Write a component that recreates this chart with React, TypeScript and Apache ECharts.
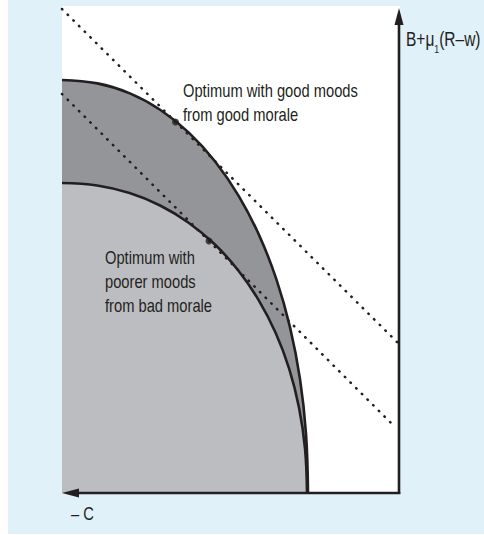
import React, { useEffect, useRef } from "react";
import * as echarts from "echarts";

// Data space: x = distance to the left of the vertical axis (the "− C" direction),
// y = height above the horizontal axis ("B+μ1(R−w)").
const X_MAX = 337;
const Y_MAX = 485;

// Frontier with good morale (outer, darker band)
const goodFrontierX = [337, 301.6, 269.1, 238.5, 209.9, 183.7, 160.2, 139.7, 122.5, 108.9, 99, 93, 91];
const goodFrontierY = [413, 409.6, 399.6, 383.0, 360.1, 331.3, 296.9, 257.4, 213.4, 165.4, 114, 59.4, 0];

// Frontier with bad morale (inner, lighter area)
const badFrontierX = [337, 301.8, 269.4, 238.9, 210.4, 184.3, 160.9, 140.5, 123.4, 109.8, 100, 94, 92];
const badFrontierY = [310, 307.5, 299.9, 287.5, 270.3, 248.7, 222.8, 193.2, 160.2, 124.2, 85.6, 44.6, 0];

// Dotted iso-lines (tangents)
const goodTangentX = [337, 0];
const goodTangentY = [484, 149];
const badTangentX = [337, 8];
const badTangentY = [399, 70];

// Optima
const optimaX = [223.5, 190];
const optimaY = [371, 252];

const goodLabelLines = ["Optimum with good moods", "from good morale"];
const badLabelLines = ["Optimum with", "poorer moods", "from bad morale"];
const yAxisLabel = "{m|B+μ}{s|1}{m|(R–w)}";
const xAxisLabel = "– C";

const INK = "#231f20";
const DARK = "#939598";
const LIGHT = "#bcbdc0";
const BG = "#e0f1fa";
const FONT = "'Liberation Sans', Arial, sans-serif";
const FS = 18.5;
const NARROW = 0.795;

const zip = (xs: number[], ys: number[]) => xs.map((x, i) => [x, ys[i]]);

const narrowText = (x: number, y: number, text: string, extra: any = {}) => ({
  type: "text",
  z: 60,
  x,
  y,
  scaleX: NARROW,
  silent: true,
  style: { x: 0, y: 0, text, font: `${FS}px ${FONT}`, fill: INK, verticalAlign: "middle", ...extra },
});

export default function App() {
  const ref = useRef<HTMLDivElement>(null);

  useEffect(() => {
    if (!ref.current) return;
    const chart = echarts.init(ref.current, null, { renderer: "svg" });

    const dotted = {
      color: INK,
      width: 2.5,
      type: [0.5, 7.5] as any,
      cap: "round" as const,
    };

    chart.setOption({
      animation: false,
      grid: { left: 62, right: 85, top: 8, bottom: 42 },
      xAxis: { type: "value", min: 0, max: X_MAX, inverse: true, show: false },
      yAxis: { type: "value", min: 0, max: Y_MAX, show: false },
      series: [
        {
          type: "line",
          data: zip(goodFrontierX, goodFrontierY),
          smooth: 0.4,
          symbol: "none",
          lineStyle: { color: INK, width: 2.6 },
          areaStyle: { color: DARK, opacity: 1 },
          z: 3,
        },
        {
          type: "line",
          data: zip(badFrontierX, badFrontierY),
          smooth: 0.4,
          symbol: "none",
          lineStyle: { color: INK, width: 2.6 },
          areaStyle: { color: LIGHT, opacity: 1 },
          z: 4,
        },
        {
          type: "line",
          data: zip(goodTangentX, goodTangentY),
          symbol: "none",
          lineStyle: dotted,
          z: 5,
        },
        {
          type: "line",
          data: zip(badTangentX, badTangentY),
          symbol: "none",
          lineStyle: dotted,
          z: 5,
        },
        {
          type: "scatter",
          data: zip(optimaX, optimaY),
          symbolSize: 7,
          itemStyle: { color: INK },
          z: 6,
        },
      ],
    });

    const o = chart.convertToPixel({ gridIndex: 0 }, [0, 0]) as number[];
    const top = chart.convertToPixel({ gridIndex: 0 }, [0, Y_MAX]) as number[];
    const left = chart.convertToPixel({ gridIndex: 0 }, [X_MAX, 0]) as number[];
    const ah = 17;
    const aw = 4.5;

    chart.setOption({
      graphic: [
        { type: "rect", z: -20, silent: true, shape: { x: 8, y: 0, width: 476, height: 534 }, style: { fill: BG } },
        {
          type: "rect",
          z: -19,
          silent: true,
          shape: { x: left[0], y: top[1] - 2, width: o[0] - left[0] + 1, height: o[1] - top[1] + 2 },
          style: { fill: "#ffffff" },
        },
        // vertical axis
        { type: "line", z: 50, shape: { x1: o[0], y1: o[1] + 1, x2: top[0], y2: top[1] + ah - 1 }, style: { stroke: INK, lineWidth: 2.6 } },
        {
          type: "polygon",
          z: 50,
          shape: { points: [[top[0], top[1]], [top[0] - aw, top[1] + ah], [top[0] + aw, top[1] + ah]] },
          style: { fill: INK },
        },
        // horizontal axis
        { type: "line", z: 50, shape: { x1: o[0] + 1.3, y1: o[1], x2: left[0] + ah - 1, y2: left[1] }, style: { stroke: INK, lineWidth: 2.6 } },
        {
          type: "polygon",
          z: 50,
          shape: { points: [[left[0], left[1]], [left[0] + ah, left[1] - aw], [left[0] + ah, left[1] + aw]] },
          style: { fill: INK },
        },
        // axis labels
        {
          type: "text",
          z: 60,
          x: o[0] + 7,
          y: 39,
          scaleX: NARROW,
          silent: true,
          style: {
            x: 0,
            y: 0,
            text: yAxisLabel,
            verticalAlign: "middle",
            fill: INK,
            rich: {
              m: { fontSize: FS + 1, fontFamily: FONT, lineHeight: 32, fill: INK },
              s: { fontSize: 11, fontFamily: FONT, verticalAlign: "bottom", fill: INK },
            },
          },
        },
        narrowText(71, 513.5, xAxisLabel),
        // annotations
        ...goodLabelLines.map((t, i) => narrowText(183, 91 + i * 24, t)),
        ...badLabelLines.map((t, i) => narrowText(105, 257.5 + i * 24.4, t)),
      ],
    });

    return () => chart.dispose();
  }, []);

  return (
    <div
      ref={ref}
      style={{ position: "fixed", left: 0, top: 0, width: 484, height: 535, background: "#ffffff" }}
    />
  );
}
